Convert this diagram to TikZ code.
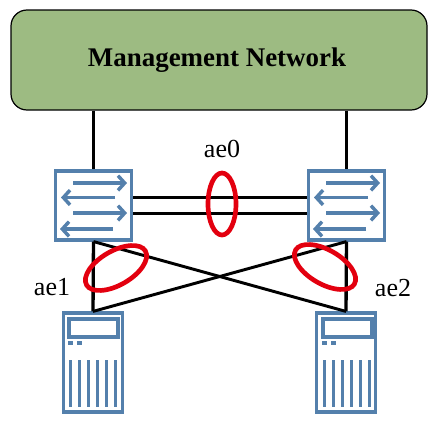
\documentclass[tikz,border=0pt]{standalone}
\usepackage{fontspec}
\setmainfont{Liberation Serif}
\usetikzlibrary{arrows.meta}
\definecolor{netgreen}{HTML}{9DBB82}
\definecolor{devblue}{HTML}{5480AC}
\definecolor{lagred}{HTML}{E3000F}
\tikzset{
  px/.style={x=0.75pt,y=-0.75pt},
  mgmtbox/.style={draw=black,line width=0.9pt,fill=netgreen,rounded corners=12pt,minimum width=312pt,minimum height=75pt,inner sep=0pt,font=\bfseries\fontsize{20.2}{24}\selectfont},
  switchbox/.style={draw=devblue,line width=2.6pt,fill=white,minimum width=57pt,minimum height=51.5pt,inner sep=0pt},
  serverbox/.style={draw=devblue,line width=2.6pt,fill=white,minimum width=44pt,minimum height=74pt,inner sep=0pt},
  wire/.style={draw=black,line width=2.5pt},
  flow/.style={draw=devblue,line width=2.6pt,-{Straight Barb[length=5pt,width=11pt,line width=2.6pt]}},
  part/.style={draw=devblue,line width=2.6pt},
  lag/.style={draw=lagred,line width=3.5pt},
  lagtext/.style={font=\fontsize{19.5}{22}\selectfont,inner sep=0pt}
}
\begin{document}
\begin{tikzpicture}[px]
\useasboundingbox (0,0) rectangle (436,425);
\node[mgmtbox] (mgmt) at (219,60) {Management Network\hspace*{3pt}};
\node[switchbox] (sw1) at (93.5,205.5) {};
\node[switchbox] (sw2) at (346.5,205.5) {};
\node[serverbox] (srv1) at (93,362.5) {};
\node[serverbox] (srv2) at (346,362.5) {};
% connectors
\draw[wire] (sw1.north |- mgmt.south) -- (sw1.north);
\draw[wire] (sw2.north |- mgmt.south) -- (sw2.north);
\draw[wire] ([yshift=6pt]sw1.east) -- ([yshift=6pt]sw2.west);
\draw[wire] ([yshift=-6pt]sw1.east) -- ([yshift=-6pt]sw2.west);
\draw[wire] (sw1.south) -- (srv1.north);
\draw[wire] (sw2.south) -- (srv2.north);
\draw[wire,line width=2.2pt] (sw1.south) -- (srv2.north);
\draw[wire,line width=2.2pt] (sw2.south) -- (srv1.north);
% switch arrows
\foreach \dx/\nm in {0/a,253/b}{
  \draw[flow] (73+\dx,183) -- (127+\dx,183);
  \draw[flow] (115+\dx,197.5) -- (61+\dx,197.5);
  \draw[flow] (73+\dx,213) -- (127+\dx,213);
  \draw[flow] (113+\dx,229) -- (60+\dx,229);
}
% server details
\foreach \dx in {0,254}{
  \draw[part] (69+\dx,319) rectangle (118+\dx,337);
  \draw[part] (68+\dx,343) -- (73+\dx,343);
  \draw[part] (77+\dx,343) -- (82+\dx,343);
  \foreach \bx in {70.5,79.5,88.5,97.5,106.5,115.5}
    \draw[part] (\bx+\dx,360) -- (\bx+\dx,407);
}
% link aggregation rings
\draw[lag] (222,204) ellipse [x radius=14,y radius=31];
\draw[lag] (116,268) ellipse [x radius=34,y radius=17,rotate=30];
\draw[lag] (325,267) ellipse [x radius=34,y radius=17,rotate=-30];
% labels
\node[lagtext] (l0) at (222,149) {ae0};
\node[lagtext] (l1) at (52,287) {ae1};
\node[lagtext] (l2) at (393,288) {ae2};
\end{tikzpicture}
\end{document}
